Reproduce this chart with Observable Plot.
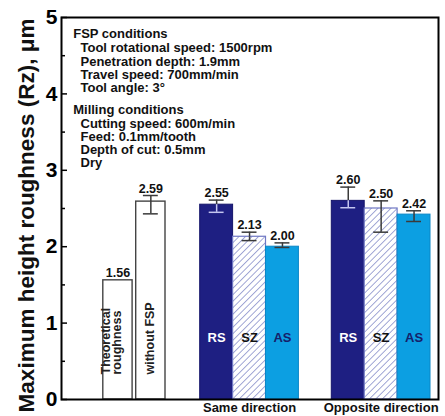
<!DOCTYPE html>
<html>
<head>
<meta charset="utf-8">
<script src="https://cdn.jsdelivr.net/npm/d3@7"></script>
<script src="https://cdn.jsdelivr.net/npm/@observablehq/plot@0.6"></script>
<style>
  html, body { margin: 0; padding: 0; background: #fff; }
</style>
</head>
<body>
<div id="chart"></div>
<script>
// ---- data ----
const barIds    = ["theo", "wo", "sRS", "sSZ", "sAS", "oRS", "oSZ", "oAS"];
const barValues = [1.56, 2.59, 2.55, 2.13, 2.00, 2.60, 2.50, 2.42];
const errLow    = [null, 2.43, 2.45, 2.08, 1.99, 2.51, 2.19, 2.33];
const errHigh   = [null, 2.67, 2.61, 2.19, 2.05, 2.78, 2.60, 2.47];
const barKinds  = ["plain", "plain", "RS", "SZ", "AS", "RS", "SZ", "AS"];
const barTexts  = ["Theoretical\nroughness", "without FSP", "RS", "SZ", "AS", "RS", "SZ", "AS"];
const xOrder    = ["theo", "wo", "gap1", "sRS", "sSZ", "sAS", "gap2", "oRS", "oSZ", "oAS"];
const groupLabels = ["Same direction", "Opposite direction"];
const groupCenterIds = ["sSZ", "oSZ"];
const yTicks = [0, 1, 2, 3, 4, 5];
const yMinorTicks = [0.5, 1.5, 2.5, 3.5, 4.5];
const yTitle = "Maximum height roughness (Rz), \u03bcm";
const fspTitle = "FSP conditions";
const fspLines = ["Tool rotational speed: 1500rpm", "Penetration depth: 1.9mm", "Travel speed: 700mm/min", "Tool angle: 3\u00b0"];
const millTitle = "Milling conditions";
const millLines = ["Cutting speed: 600m/min", "Feed: 0.1mm/tooth", "Depth of cut: 0.5mm", "Dry"];

// ---- table ----
const bars = barIds.map((id, i) => ({
  id, value: barValues[i], low: errLow[i], high: errHigh[i],
  kind: barKinds[i], text: barTexts[i]
}));
const withErr = bars.filter(d => d.low != null);
const groups = groupLabels.map((g, i) => ({label: g, id: groupCenterIds[i]}));
const of = k => bars.filter(d => d.kind === k);

const styles = {
  plain: {fill: "white", stroke: "#444"},
  RS: {fill: "#1e1f82", stroke: "#15156a"},
  SZ: {fill: "url(#hatch)", stroke: "#7078c4"},
  AS: {fill: "#0c9fe2", stroke: "#0a86c6"}
};
const labelColor = {RS: "#ffffff", SZ: "#111111", AS: "#16206a"};

const chart = Plot.plot({
  width: 445,
  height: 416,
  marginLeft: 61,
  marginRight: 7,
  marginTop: 17,
  marginBottom: 17,
  style: {fontFamily: "'Liberation Sans', Arial, sans-serif", fontWeight: "bold", background: "white", color: "black"},
  x: {type: "band", domain: xOrder, padding: 0, round: false, insetLeft: 40, insetRight: 8, axis: null},
  y: {domain: [0, 5], axis: null},
  marks: [
    // bars
    Plot.barY(of("plain"), {x: "id", y: "value", fill: styles.plain.fill, stroke: styles.plain.stroke, strokeWidth: 1.4, insetLeft: 1.8, insetRight: 1.8}),
    Plot.barY(of("RS"), {x: "id", y: "value", fill: styles.RS.fill, stroke: styles.RS.stroke, strokeWidth: 1}),
    Plot.barY(of("SZ"), {x: "id", y: "value", fill: styles.SZ.fill, stroke: styles.SZ.stroke, strokeWidth: 1.2}),
    Plot.barY(of("AS"), {x: "id", y: "value", fill: styles.AS.fill, stroke: styles.AS.stroke, strokeWidth: 1}),
    // error bars: upper half
    Plot.ruleX(withErr, {x: "id", y1: "value", y2: "high", stroke: "#3a3a3a", strokeWidth: 1.5}),
    Plot.tickY(withErr, {x: "id", y: "high", stroke: "#3a3a3a", strokeWidth: 1.5, inset: 9}),
    // error bars: lower half (inside bar)
    Plot.ruleX(withErr.filter(d => d.kind !== "RS"), {x: "id", y1: "low", y2: "value", stroke: "#3a3a3a", strokeWidth: 1.5}),
    Plot.tickY(withErr.filter(d => d.kind !== "RS"), {x: "id", y: "low", stroke: "#3a3a3a", strokeWidth: 1.5, inset: 9}),
    Plot.ruleX(withErr.filter(d => d.kind === "RS"), {x: "id", y1: "low", y2: "value", stroke: "#c4c6f0", strokeWidth: 1.5}),
    Plot.tickY(withErr.filter(d => d.kind === "RS"), {x: "id", y: "low", stroke: "#c4c6f0", strokeWidth: 1.5, inset: 9}),
    // value labels
    Plot.text(bars, {x: "id", y: d => d.high ?? d.value, text: d => d.value.toFixed(2), dy: -3, lineAnchor: "bottom", fontSize: 12.5, fill: "#111"}),
    // labels inside bars
    Plot.text(of("plain"), {x: "id", text: "text", frameAnchor: "bottom", rotate: -90, textAnchor: "start", dx: 3.5, dy: -25, fontSize: 12.5, lineHeight: 0.9, fill: "#222"}),
    ...["RS", "SZ", "AS"].map(k => Plot.text(of(k), {x: "id", text: "text", frameAnchor: "bottom", dy: -58, fontSize: 13, fill: labelColor[k]})),
    // group labels
    Plot.text(groups, {x: "id", text: "label", frameAnchor: "bottom", dy: 12, fontSize: 13, fill: "#111"}),
    // y axis
    Plot.axisY({ticks: yTicks, tickSize: -6, tickPadding: 10, tickFormat: d => String(d), fontSize: 21, fontWeight: "bold", strokeWidth: 1.5, label: null}),
    Plot.axisY({ticks: yMinorTicks, tickSize: -4, tickFormat: () => "", strokeWidth: 1.5, label: null}),
    Plot.text([yTitle], {frameAnchor: "left", rotate: -90, textAnchor: "middle", dx: -35, dy: 7, fontSize: 22.5, fill: "#111"}),
    // annotation block
    Plot.text([fspTitle], {frameAnchor: "top-left", textAnchor: "start", lineAnchor: "top", dx: 11.7, dy: 11.3, fontSize: 13, fill: "#111"}),
    Plot.text([fspLines.join("\n")], {frameAnchor: "top-left", textAnchor: "start", lineAnchor: "top", dx: 19, dy: 25.3, fontSize: 13, lineHeight: 1.025, fill: "#111"}),
    Plot.text([millTitle], {frameAnchor: "top-left", textAnchor: "start", lineAnchor: "top", dx: 11.7, dy: 87.3, fontSize: 13, fill: "#111"}),
    Plot.text([millLines.join("\n")], {frameAnchor: "top-left", textAnchor: "start", lineAnchor: "top", dx: 19, dy: 101.3, fontSize: 13, lineHeight: 1.0, fill: "#111"}),
    // frame
    Plot.frame({stroke: "black", strokeWidth: 2})
  ]
});

// hatch pattern for the SZ bars
d3.select(chart).insert("defs", ":first-child").html(
  '<pattern id="hatch" patternUnits="userSpaceOnUse" width="4.6" height="4.6" patternTransform="rotate(45)">' +
  '<rect width="4.6" height="4.6" fill="white"></rect>' +
  '<line x1="0" y1="0" x2="0" y2="4.6" stroke="#6f78c0" stroke-width="1.3"></line>' +
  '</pattern>'
);

document.getElementById("chart").appendChild(chart);
</script>
</body>
</html>
